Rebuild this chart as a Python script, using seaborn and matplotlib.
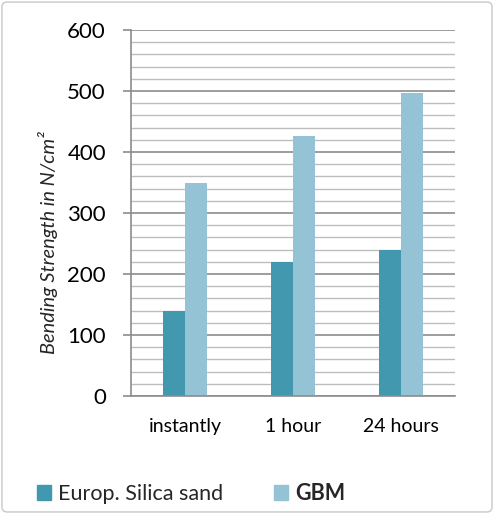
import matplotlib
matplotlib.use("Agg")
import matplotlib.pyplot as plt
import matplotlib.patches as mpatches
from matplotlib.ticker import MultipleLocator
import pandas as pd
import seaborn as sns

categories = ["instantly", "1 hour", "24 hours"]
series_names = ["Europ. Silica sand", "GBM"]
silica_sand = [140, 220, 240]
gbm = [350, 427, 497]
colors = ["#4298AF", "#93C3D5"]

df = pd.DataFrame({
    "time": categories * 2,
    "material": [series_names[0]] * 3 + [series_names[1]] * 3,
    "strength": silica_sand + gbm,
})

sns.set_theme(style="white")
plt.rcParams["font.family"] = ["Lato", "DejaVu Sans"]

fig = plt.figure(figsize=(4.94, 5.14), dpi=100)
ax = fig.add_axes([0.265, 0.2296, 0.656, 0.712])

sns.barplot(data=df, x="time", y="strength", hue="material", order=categories,
            hue_order=series_names, palette=colors, width=0.4, saturation=1,
            linewidth=0, ax=ax, legend=False)

ax.set_ylim(0, 600)
ax.set_xlim(-0.5, 2.5)
ax.yaxis.set_major_locator(MultipleLocator(100))
ax.yaxis.set_minor_locator(MultipleLocator(20))
ax.grid(which="minor", axis="y", color="#BDBDBD", linewidth=1.0)
ax.grid(which="major", axis="y", color="#8C8C8C", linewidth=1.2)
ax.set_axisbelow(True)

for side in ["top", "right"]:
    ax.spines[side].set_visible(False)
ax.spines["left"].set_color("#8C8C8C")
ax.spines["bottom"].set_color("#8C8C8C")
ax.spines["left"].set_linewidth(1.2)
ax.spines["bottom"].set_linewidth(1.2)

ax.tick_params(axis="y", which="major", left=True, length=6, width=1.2,
               color="#8C8C8C", labelsize=16, pad=12, labelcolor="black")
ax.tick_params(axis="y", which="minor", left=False)
ax.tick_params(axis="x", bottom=False, labelsize=14, pad=10, labelcolor="black")

ax.set_xlabel("")
ax.set_ylabel("Bending Strength in N/cm²", fontsize=14.4, style="italic")
ax.yaxis.set_label_coords(-0.225, 0.42)

handles = [mpatches.Patch(color=c, label=n) for c, n in zip(colors, series_names)]
leg = fig.legend(handles=handles, loc="center left", bbox_to_anchor=(0.036, 0.04),
                 ncol=2, frameon=False, fontsize=15.5, handlelength=0.65,
                 handleheight=0.65, handletextpad=0.3, columnspacing=2.4)
leg.get_texts()[1].set_fontweight("bold")

fig.patches.append(mpatches.FancyBboxPatch((0.004, 0.004), 0.992, 0.992,
                                           boxstyle="round,pad=0,rounding_size=0.01",
                                           transform=fig.transFigure,
                                           fill=False, edgecolor="#C8C8C8",
                                           linewidth=1.0))

fig.savefig("out.png", dpi=100)
